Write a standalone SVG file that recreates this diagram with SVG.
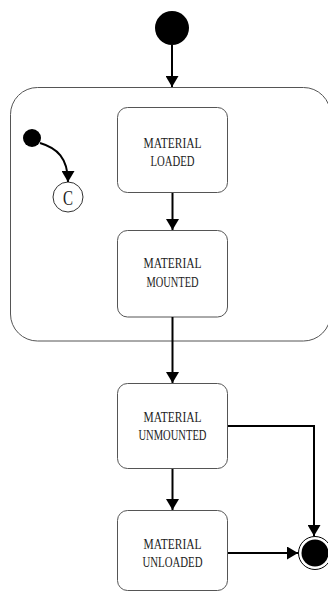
<svg xmlns="http://www.w3.org/2000/svg" width="328" height="592" viewBox="0 0 328 592">
  <style>
    .state { fill: #ffffff; stroke: #555555; stroke-width: 1; }
    .composite { fill: #ffffff; stroke: #555555; stroke-width: 1; }
    .label { font-family: "Liberation Serif", "Times New Roman", serif; font-size: 15.5px; fill: #222222; text-anchor: middle; }
    .big { font-size: 21px; }
    .edge { fill: none; stroke: #000000; stroke-width: 2; }
    .dot { fill: #000000; }
  </style>
  <defs>
    <marker id="arrow" markerUnits="userSpaceOnUse" markerWidth="12" markerHeight="13" refX="11" refY="6.5" orient="auto">
      <path d="M0,0 L11,6.5 L0,13 Z" fill="#000000"/>
    </marker>
  </defs>

  <rect width="328" height="592" fill="#ffffff"/>

  <!-- top-level initial pseudostate -->
  <g id="init">
    <circle class="dot" cx="172" cy="28" r="17"/>
  </g>

  <!-- composite state holding loaded / mounted -->
  <g id="composite">
    <rect class="composite" x="10.5" y="87.5" width="320" height="253.5" rx="27" ry="27"/>
  </g>

  <g id="inner-init">
    <circle class="dot" cx="32" cy="138" r="9"/>
  </g>

  <g id="choice-c">
    <circle cx="68" cy="197" r="15" fill="#ffffff" stroke="#333333" stroke-width="1"/>
    <text class="label big" x="68" y="204.5" textLength="10" lengthAdjust="spacingAndGlyphs">C</text>
  </g>

  <g id="loaded">
    <rect class="state" x="117.5" y="107.5" width="110" height="85" rx="10" ry="10"/>
    <text class="label" x="172.5" y="148" textLength="58" lengthAdjust="spacingAndGlyphs">MATERIAL</text>
    <text class="label" x="172.5" y="165.5" textLength="44" lengthAdjust="spacingAndGlyphs">LOADED</text>
  </g>

  <g id="mounted">
    <rect class="state" x="117.5" y="230.5" width="110" height="86.5" rx="10" ry="10"/>
    <text class="label" x="172.5" y="268" textLength="58" lengthAdjust="spacingAndGlyphs">MATERIAL</text>
    <text class="label" x="172.5" y="287" textLength="52" lengthAdjust="spacingAndGlyphs">MOUNTED</text>
  </g>

  <g id="unmounted">
    <rect class="state" x="117.5" y="383.5" width="110" height="85" rx="10" ry="10"/>
    <text class="label" x="172.5" y="422" textLength="58" lengthAdjust="spacingAndGlyphs">MATERIAL</text>
    <text class="label" x="172.5" y="440" textLength="68" lengthAdjust="spacingAndGlyphs">UNMOUNTED</text>
  </g>

  <g id="unloaded">
    <rect class="state" x="117.5" y="510.5" width="110" height="80" rx="10" ry="10"/>
    <text class="label" x="172.5" y="549" textLength="58" lengthAdjust="spacingAndGlyphs">MATERIAL</text>
    <text class="label" x="172.5" y="567" textLength="60" lengthAdjust="spacingAndGlyphs">UNLOADED</text>
  </g>

  <!-- final state: ring around a filled disc -->
  <g id="final">
    <circle cx="315" cy="553" r="16.5" fill="#ffffff" stroke="#000000" stroke-width="1"/>
    <circle class="dot" cx="315" cy="553" r="13.5"/>
  </g>

  <g id="connectors">
    <path class="edge" d="M172,45 V87" marker-end="url(#arrow)"/>
    <path class="edge" d="M40,143 C57,148 68,158 68,182" marker-end="url(#arrow)"/>
    <path class="edge" d="M172.5,193 V230" marker-end="url(#arrow)"/>
    <path class="edge" d="M172.5,317 V383" marker-end="url(#arrow)"/>
    <path class="edge" d="M172.5,469 V510" marker-end="url(#arrow)"/>
    <path class="edge" d="M228,426 H314 V536" marker-end="url(#arrow)"/>
    <path class="edge" d="M228,553 H298" marker-end="url(#arrow)"/>
  </g>
</svg>
